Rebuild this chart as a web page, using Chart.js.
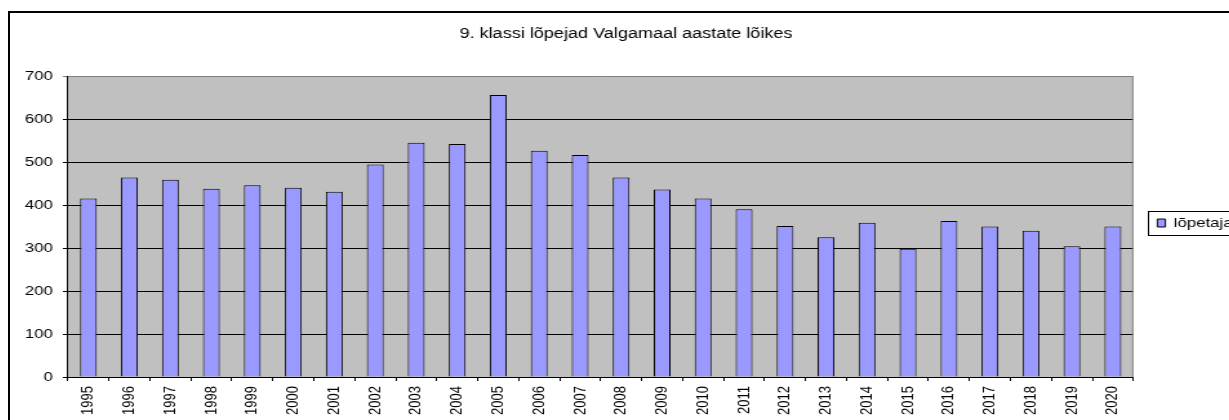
<!DOCTYPE html>
<html>
<head>
<meta charset="utf-8">
<script src="https://cdn.jsdelivr.net/npm/chart.js@4"></script>
<style>
  html, body { margin: 0; padding: 0; background: #fff; overflow: hidden; width: 1229px; height: 420px; }
  /* the chart sheet: its frame runs past the right and bottom edge of the view */
  #frame { position: absolute; left: 8px; top: 11px; border-left: 2px solid #000; border-top: 2px solid #000; width: 1240px; height: 430px; }
</style>
</head>
<body>
<div id="frame">
  <!-- drawn at 955 px and stretched to 1232 px wide, as the original picture is -->
  <canvas id="chart" width="955" height="420" style="width:1232px;height:420px"></canvas>
</div>
<script>
// ===== data =====
const chartTitle = '9. klassi lõpejad Valgamaal aastate lõikes';
const seriesLabel = 'lõpetajad';
const years = ['1995', '1996', '1997', '1998', '1999', '2000', '2001', '2002', '2003', '2004', '2005', '2006', '2007',
  '2008', '2009', '2010', '2011', '2012', '2013', '2014', '2015', '2016', '2017', '2018', '2019', '2020'];
const graduates = [415, 464, 459, 438, 446, 440, 431, 494, 545, 542, 656, 526, 516,
  464, 436, 415, 390, 351, 325, 359, 298, 363, 350, 340, 304, 350];
const yMin = 0;
const yMax = 700;
const yStep = 100;

const FONT = '"Liberation Sans", Arial, sans-serif';

// grey plot background, grey right edge, framed legend (Excel 2003 look)
const excelLook = {
  id: 'excelLook',
  beforeDraw(chart) {
    const { ctx, chartArea: a } = chart;
    ctx.save();
    ctx.fillStyle = '#c0c0c0';
    ctx.fillRect(a.left, a.top, a.right - a.left, a.bottom - a.top);
    const hb = chart.legend && chart.legend.legendHitBoxes && chart.legend.legendHitBoxes[0];
    if (hb) {
      ctx.strokeStyle = '#000';
      ctx.lineWidth = 1;
      ctx.strokeRect(Math.round(hb.left - 7) + 0.5, Math.round(hb.top + hb.height / 2 - 12) + 0.5, hb.width + 20, 24);
    }
    ctx.restore();
  },
  beforeDatasetsDraw(chart) {
    const { ctx, chartArea: a } = chart;
    ctx.save();
    ctx.strokeStyle = '#808080';
    ctx.lineWidth = 1;
    ctx.beginPath();
    ctx.moveTo(a.right - 0.5, a.top);
    ctx.lineTo(a.right - 0.5, a.bottom);
    ctx.stroke();
    ctx.restore();
  }
};

const ctx = document.getElementById('chart').getContext('2d');
new Chart(ctx, {
  type: 'bar',
  data: {
    labels: years,
    datasets: [{
      label: seriesLabel,
      data: graduates,
      backgroundColor: '#9999ff',
      borderColor: '#000',
      borderWidth: 1,
      barPercentage: 0.41,
      categoryPercentage: 1
    }]
  },
  options: {
    responsive: false,
    devicePixelRatio: 1,
    animation: false,
    layout: { padding: 0 },
    plugins: {
      title: {
        display: true,
        text: chartTitle,
        color: '#000',
        font: { family: FONT, size: 14, weight: 'normal' },
        padding: { top: 12.8, bottom: 33.4 }
      },
      legend: {
        display: true,
        position: 'right',
        maxWidth: 84.2,
        labels: {
          boxWidth: 6.2,
          boxHeight: 8,
          padding: 18.6,
          color: '#000',
          font: { family: FONT, size: 13 }
        }
      },
      tooltip: { enabled: false }
    },
    scales: {
      x: {
        grid: { drawOnChartArea: false, offset: true, tickLength: 4, color: '#000' },
        border: { color: '#000', width: 1 },
        ticks: { color: '#000', font: { family: FONT, size: 13 }, minRotation: 90, maxRotation: 90, autoSkip: false, padding: 5 },
        afterFit: (s) => { s.height = 56; }
      },
      y: {
        min: yMin,
        max: yMax,
        ticks: { stepSize: yStep, color: '#000', font: { family: FONT, size: 13 }, padding: 7.7 },
        grid: { color: (c) => (c.tick && c.tick.value === yMax ? '#808080' : '#000'), lineWidth: 1, tickLength: 3.9 },
        border: { color: '#000', width: 1 },
        afterFit: (s) => { s.width = 44.9; }
      }
    }
  },
  plugins: [excelLook]
});
</script>
</body>
</html>
